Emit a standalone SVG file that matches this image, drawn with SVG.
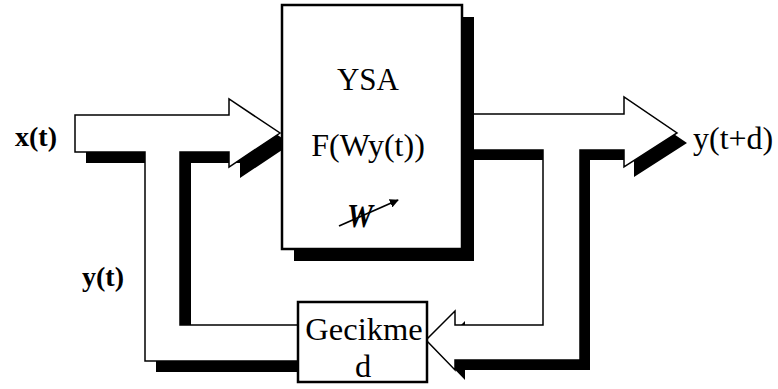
<svg xmlns="http://www.w3.org/2000/svg" xmlns:xlink="http://www.w3.org/1999/xlink" width="778" height="389" viewBox="0 0 778 389">
  <style>
    .pipe { fill: #fff; stroke: #000; stroke-width: 1.5; stroke-linejoin: miter; }
    .shadow { fill: #000; stroke: none; }
    .box { fill: #fff; stroke: #000; stroke-width: 2.5; }
    .t { font-family: "Liberation Serif", "Times New Roman", serif; fill: #000; }
    .lbl { font-family: "Liberation Serif", "Times New Roman", serif; font-weight: bold; fill: #000; }
  </style>
  <defs>
    <!-- input arrow merged with the y(t) feedback channel -->
    <path id="inPipe" d="M75,115 H229 V99 L280,133 L229,167 V152 H180 V325 H298 V361 H145 V152 H75 Z"/>
    <!-- output arrow merged with the return channel into the delay -->
    <path id="outPipe" d="M463,114 H624 V97 L677,133 L624,167 V150 H580 V360 H455 V370 L426,340 L455,311 V325 H543 V150 H463 Z"/>
    <marker id="tip" viewBox="0 0 10 10" refX="9" refY="5" markerWidth="5" markerHeight="5" orient="auto" markerUnits="strokeWidth">
      <path d="M0,0 L10,5 L0,10 Z" fill="#000"/>
    </marker>
  </defs>

  <rect width="778" height="389" fill="#fff"/>

  <g id="connectors">
    <use xlink:href="#inPipe" class="shadow" transform="translate(11,11)"/>
    <use xlink:href="#inPipe" class="pipe"/>
    <use xlink:href="#outPipe" class="shadow" transform="translate(10,10)"/>
    <use xlink:href="#outPipe" class="pipe"/>
  </g>

  <g id="ysa">
    <rect x="294" y="17" width="180" height="244" class="shadow"/>
    <rect x="282" y="5" width="180" height="244" class="box"/>
    <text x="368" y="90" font-size="31" text-anchor="middle" class="t">YSA</text>
    <text x="368" y="156" font-size="32" text-anchor="middle" class="t">F(Wy(t))</text>
    <text x="360" y="227" font-size="33" font-weight="bold" font-style="italic" text-anchor="middle" textLength="26" lengthAdjust="spacingAndGlyphs" class="t">W</text>
    <line x1="339" y1="226" x2="398" y2="200" stroke="#000" stroke-width="1.8" marker-end="url(#tip)"/>
  </g>

  <g id="gecikme">
    <rect x="298" y="302" width="129" height="80" class="box"/>
    <text x="364" y="340" font-size="32.5" text-anchor="middle" class="t">Gecikme</text>
    <text x="363" y="377" font-size="32.5" text-anchor="middle" class="t">d</text>
  </g>

  <g id="labels">
    <text x="15" y="146" font-size="28" class="lbl">x(t)</text>
    <text x="82" y="286" font-size="28" class="lbl">y(t)</text>
    <text x="693" y="149" font-size="32" class="t">y(t+d)</text>
  </g>
</svg>
